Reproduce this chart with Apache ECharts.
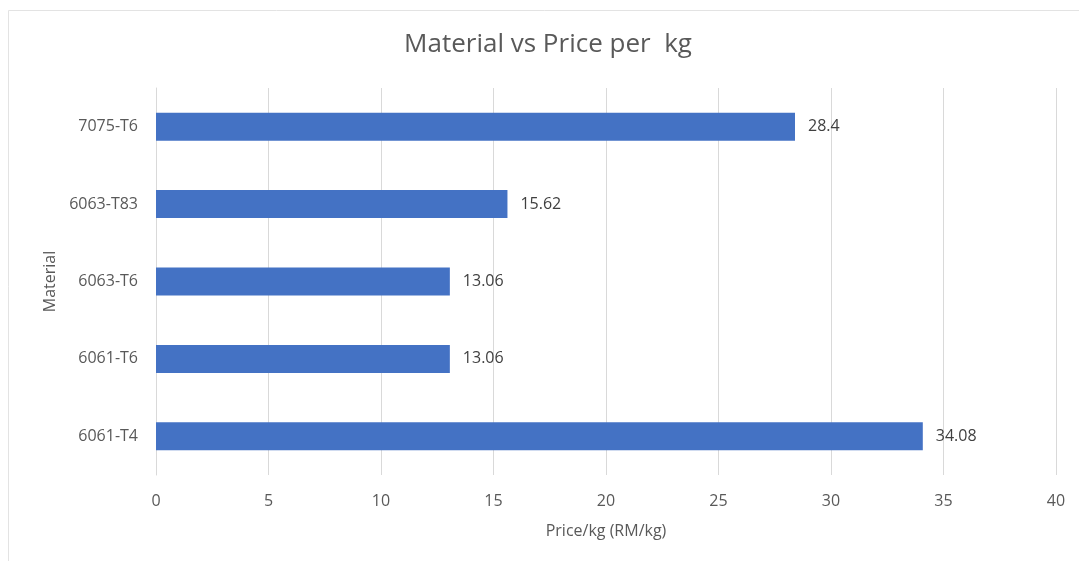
<!DOCTYPE html>
<html>
<head>
<meta charset="utf-8">
<script src="https://cdn.jsdelivr.net/npm/echarts@6/dist/echarts.min.js"></script>
<style>
  html, body { margin: 0; padding: 0; background: #fff; }
  #chart { width: 1079px; height: 561px; }
</style>
</head>
<body>
<div id="chart"></div>
<script>
// data
const materials = ['6061-T4', '6061-T6', '6063-T6', '6063-T83', '7075-T6'];
const prices = [34.08, 13.06, 13.06, 15.62, 28.4];

const font = '"Open Sans", "Liberation Sans", sans-serif';
const grey = '#595959';

const chart = echarts.init(document.getElementById('chart'));

const option = {
    animation: false,
    graphic: [
        {type: 'rect', shape: {x: 8.5, y: 10.5, width: 1100, height: 600},
         style: {fill: 'none', stroke: '#e3e3e3', lineWidth: 1}, silent: true}
    ],
    title: {
        text: 'Material vs Price per  kg',
        left: 543, top: 27, textAlign: 'center',
        textStyle: {fontFamily: font, fontSize: 26, fontWeight: 'normal', color: grey}
    },
    grid: {left: 156, right: 23, top: 88, bottom: 86},
    xAxis: {
        type: 'value', min: 0, max: 40, interval: 5,
        name: 'Price/kg (RM/kg)', nameLocation: 'middle', nameGap: 48,
        nameTextStyle: {fontFamily: font, fontSize: 16, color: grey},
        axisLine: {show: false},
        axisTick: {show: false},
        axisLabel: {fontFamily: font, fontSize: 16, color: grey, margin: 18},
        splitLine: {lineStyle: {color: '#d9d9d9', width: 1}}
    },
    yAxis: {
        type: 'category', data: materials,
        name: 'Material', nameLocation: 'middle', nameGap: 98, nameRotate: 90,
        nameTextStyle: {fontFamily: font, fontSize: 16, color: grey},
        axisLine: {lineStyle: {color: '#d9d9d9'}},
        axisTick: {show: false},
        axisLabel: {fontFamily: font, fontSize: 16, color: grey, margin: 18}
    },
    series: [{
        type: 'bar', data: prices, barWidth: 28,
        itemStyle: {color: '#4472C4'},
        label: {show: true, position: 'right', distance: 13,
                fontFamily: font, fontSize: 16, color: '#404040'}
    }]
};

chart.setOption(option);
</script>
</body>
</html>
